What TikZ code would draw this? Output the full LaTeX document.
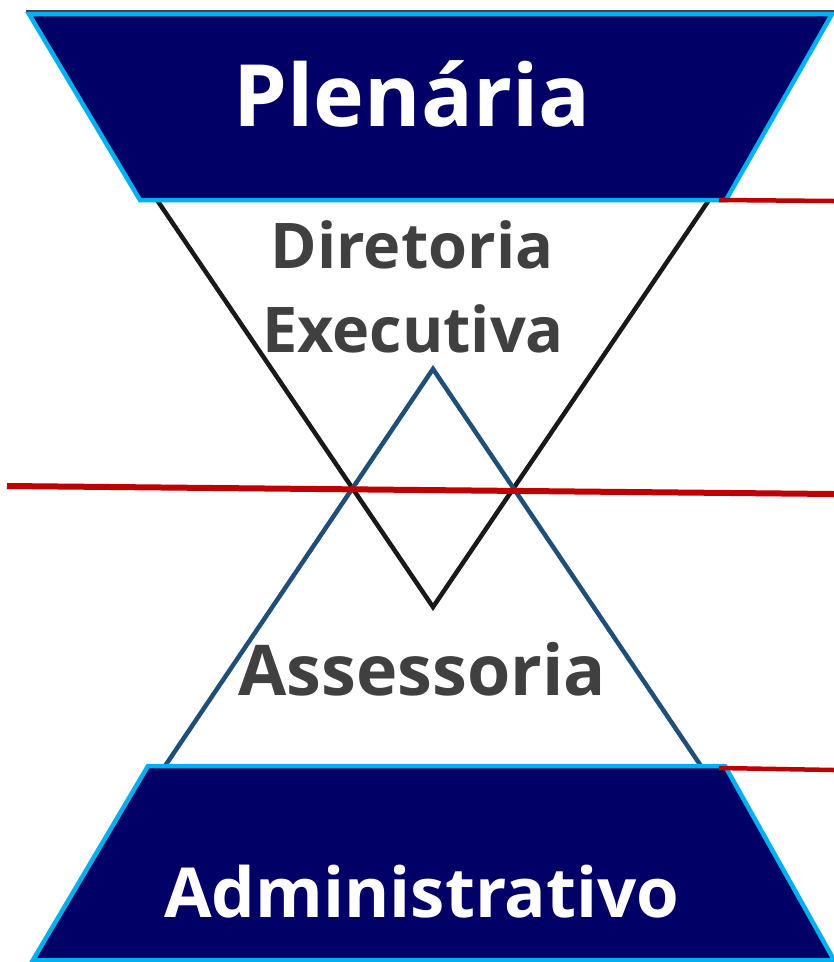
\documentclass[tikz,border=0pt]{standalone}
\usepackage{fontspec}
\setmainfont{Open Sans}
\definecolor{navy}{RGB}{0,0,102}
\definecolor{cyanb}{RGB}{0,176,240}
\definecolor{darkred}{RGB}{192,0,0}
\definecolor{steel}{RGB}{31,78,121}
\definecolor{txtgrey}{RGB}{64,64,64}
\begin{document}
\begin{tikzpicture}[x=1pt,y=-1pt,
  trap/.style={fill=navy,draw=cyanb,line width=4.5pt,line join=miter},
  redline/.style={draw=darkred,line width=6pt},
  whitetxt/.style={text=white,font=\bfseries,anchor=base,inner sep=0pt},
  greytxt/.style={text=txtgrey,font=\bfseries,anchor=base,inner sep=0pt}]
\useasboundingbox (0,0) rectangle (834,962);
% black V
\coordinate (vl) at (157,200);
\coordinate (vb) at (433,607);
\coordinate (vr) at (709,200);
\draw[line width=4.5pt,black!90] (vl) -- (vb) -- (vr);
% blue triangle
\coordinate (ta) at (433,369);
\coordinate (tl) at (165,766);
\coordinate (tr) at (701,766);
\draw[line width=4.5pt,steel,line join=miter] (tl) -- (ta) -- (tr);
% top shadow line
\coordinate (sl) at (26,11);
\coordinate (sr) at (834,11);
\draw[line width=2pt,black!75] (sl) -- (sr);
% top trapezoid
\coordinate (p1) at (29,14);
\coordinate (p2) at (832,14);
\coordinate (p3) at (726,200);
\coordinate (p4) at (140,200);
\draw[trap] (p1) -- (p2) -- (p3) -- (p4) -- cycle;
% bottom trapezoid
\coordinate (q1) at (148,766);
\coordinate (q2) at (725,766);
\coordinate (q3) at (834,960);
\coordinate (q4) at (33,960);
\draw[trap] (q1) -- (q2) -- (q3) -- (q4) -- cycle;
% red lines
\coordinate (r1) at (7,486);
\coordinate (r2) at (834,494);
\draw[redline] (r1) -- (r2);
\coordinate (s1) at (719,200);
\coordinate (s2) at (834,201);
\draw[redline,line width=4.5pt] (s1) -- (s2);
\coordinate (u1) at (719,768);
\coordinate (u2) at (834,770);
\draw[redline,line width=4.5pt] (u1) -- (u2);
% texts
\node[whitetxt,font=\fontsize{86}{86}\selectfont\bfseries] (plen) at (412,126) {Plenária};
\node[greytxt,font=\fontsize{63}{63}\selectfont\bfseries] (dir) at (412,268) {Diretoria};
\node[greytxt,font=\fontsize{63}{63}\selectfont\bfseries] (exe) at (413,352) {Executiva};
\node[greytxt,font=\fontsize{70}{70}\selectfont\bfseries] (ass) at (422,695) {Assessoria};
\node[whitetxt,font=\fontsize{69}{69}\selectfont\bfseries] (adm) at (422,917) {Administrativo};
\end{tikzpicture}
\end{document}
